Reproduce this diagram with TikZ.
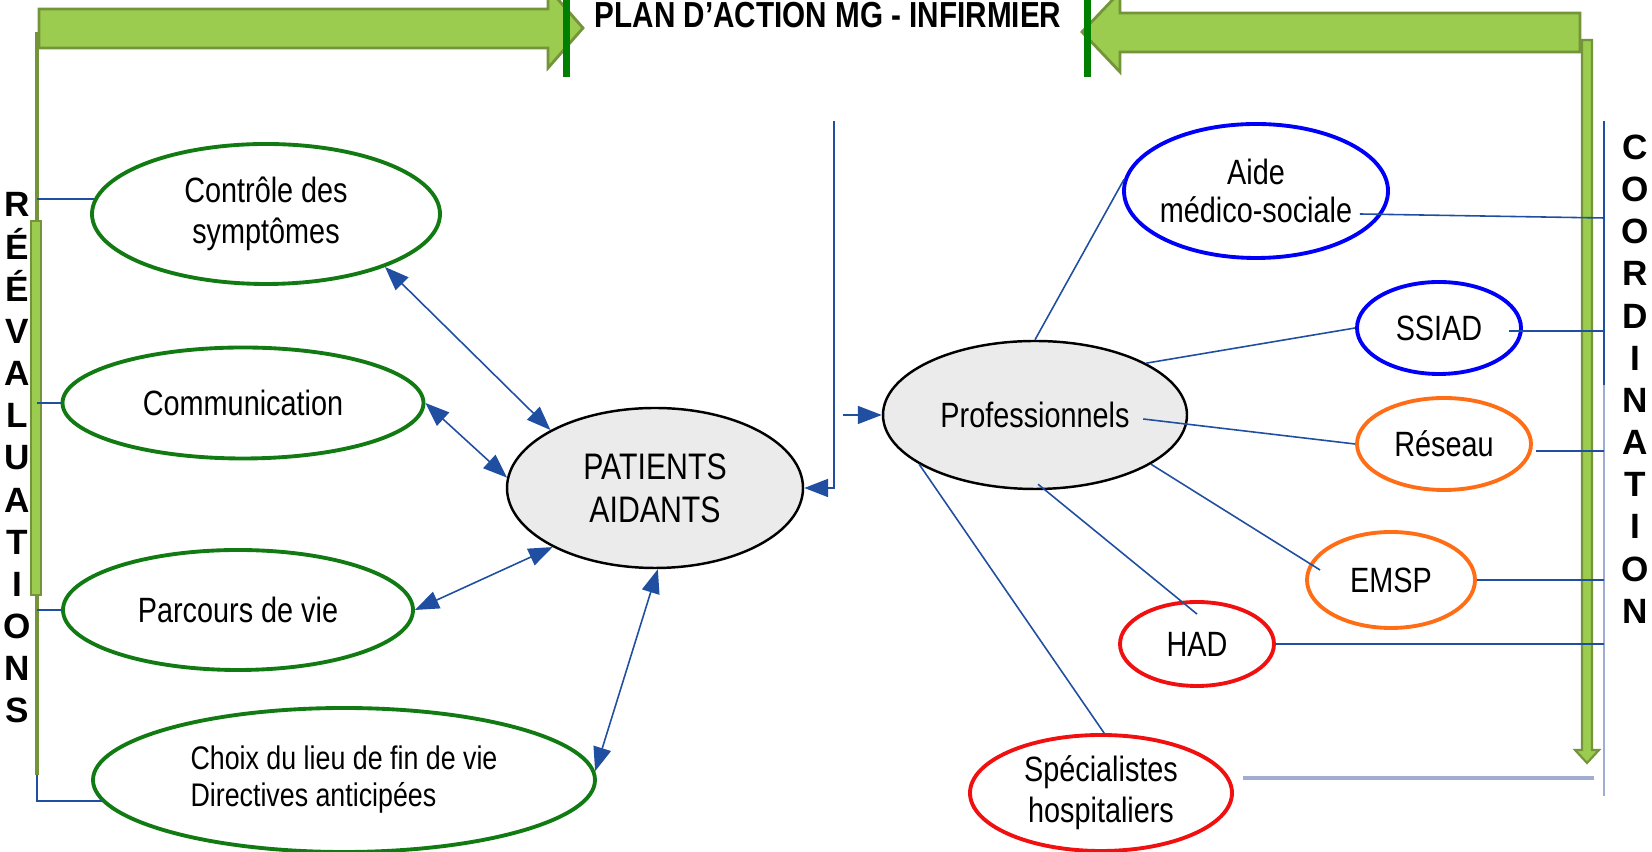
\documentclass[tikz,border=0pt]{standalone}
\usepackage{fontspec}
\setmainfont{Liberation Sans}[FakeStretch=0.82]
\newfontfamily\widefont{Liberation Sans}
\usetikzlibrary{shapes.geometric,arrows.meta,calc}

\definecolor{arrowGreen}{RGB}{155,204,80}
\definecolor{arrowEdge}{RGB}{116,148,58}
\definecolor{barGreen}{RGB}{0,128,0}
\definecolor{careGreen}{RGB}{18,122,18}
\definecolor{linkBlue}{RGB}{32,78,160}
\definecolor{paleBlue}{RGB}{160,172,208}
\definecolor{proBlue}{RGB}{0,0,250}
\definecolor{netOrange}{RGB}{255,110,22}
\definecolor{hospRed}{RGB}{240,16,16}
\definecolor{patGray}{RGB}{235,235,235}

\begin{document}
\begin{tikzpicture}[x=0.1mm,y=-0.1mm,>={Triangle[length=2.4mm,width=1.8mm]},
  font=\fontsize{10}{11.6}\selectfont,
  oval node/.style={ellipse,draw,line width=1.1pt,inner sep=0pt,align=center},
  care node/.style={oval node,draw=careGreen},
  home node/.style={oval node,draw=proBlue},
  team node/.style={oval node,draw=netOrange},
  hosp node/.style={oval node,draw=hospRed},
  hub node/.style={ellipse,draw,fill=patGray,line width=0.7pt,inner sep=0pt,
    align=center},
  vert text/.style={font=\widefont\bfseries\fontsize{10}{12}\selectfont,
    align=center,inner sep=0pt},
  title node/.style={font=\bfseries\fontsize{10.3}{12}\selectfont,inner sep=0pt},
  link/.style={color=linkBlue,line width=0.45pt},
  pale link/.style={color=paleBlue,line width=0.9pt},
  block/.style={fill=arrowGreen,draw=arrowEdge,line width=0.8pt},
  stop bar/.style={draw=barGreen,line width=0.7mm}]

  \useasboundingbox (0,0) rectangle (1652,852);

  \coordinate (REVTOP) at (37,32);
  \coordinate (REVBOT) at (37,775);
  \coordinate (HUBTOP) at (834,121);
  \coordinate (PROIN) at (843,415);
  \coordinate (COTOP) at (1604,121);
  \coordinate (COMID) at (1604,385);
  \coordinate (COBOT) at (1604,796);

  \draw[draw=arrowEdge,line width=1pt] (REVTOP) -- (REVBOT);
  \draw[block] (31,221) rectangle (41,595);
  \draw[block] (39,9) -- (548,9) -- (548,-12) -- (583,28) -- (548,68)
    -- (548,48) -- (39,48) -- cycle;
  \draw[block] (1580,13) -- (1120,13) -- (1120,-8) -- (1082,32) -- (1120,72)
    -- (1120,52) -- (1580,52) -- cycle;
  \draw[block,line width=0.6pt] (1582,40) -- (1592,40) -- (1592,750)
    -- (1599,750) -- (1587,763) -- (1575,750) -- (1582,750) -- cycle;
  \draw[stop bar] (566,0) -- (566,77);
  \draw[stop bar] (1087,0) -- (1087,77);

  \node[title node] (PLAN) at (828,15) {PLAN D'ACTION MG - INFIRMIER};
  \node[vert text] (REVAL) at (17,458) {R\\É\\É\\V\\A\\L\\U\\A\\T\\I\\O\\N\\S};
  \node[vert text] (COORD) at (1635,379) {C\\O\\O\\R\\D\\I\\N\\A\\T\\I\\O\\N};

  \node[care node,minimum width=34.8mm,minimum height=14mm] (CTRL) at (266,214)
    {Contrôle des\\symptômes};
  \node[care node,minimum width=36.1mm,minimum height=11.1mm] (COMM) at (243,403)
    {Communication};
  \node[care node,minimum width=35mm,minimum height=12mm] (PARC) at (238,610)
    {Parcours de vie};
  \node[care node,minimum width=50.2mm,minimum height=14.4mm,align=left,
    font=\fontsize{9.3}{10.5}\selectfont] (CHOIX) at (344,780)
    {Choix du lieu de fin de vie\\Directives anticipées};
  \node[hub node,minimum width=29.6mm,minimum height=16mm,
    font=\fontsize{10.5}{12.2}\selectfont] (PAT) at (655,488) {PATIENTS\\AIDANTS};
  \node[hub node,minimum width=30.4mm,minimum height=14.8mm] (PRO) at (1035,415)
    {Professionnels};
  \node[home node,minimum width=26.4mm,minimum height=13.4mm,inner xsep=-0.7mm,
    font=\fontsize{10}{11}\selectfont] (AIDE) at (1256,191) {Aide\\médico-sociale};
  \node[home node,minimum width=16.4mm,minimum height=9.2mm] (SSIAD) at (1439,328)
    {SSIAD};
  \node[team node,minimum width=17.4mm,minimum height=9.2mm] (RES) at (1444,444)
    {Réseau};
  \node[team node,minimum width=16.8mm,minimum height=9.6mm] (EMSP) at (1391,580)
    {EMSP};
  \node[hosp node,minimum width=15.4mm,minimum height=8.4mm] (HAD) at (1197,644)
    {HAD};
  \node[hosp node,minimum width=26.2mm,minimum height=11.6mm] (SPEC) at (1101,793)
    {Spécialistes\\hospitaliers};

  \path[link]
    (CTRL.175) edge (CTRL.175 -| REVTOP)
    (COMM.west) edge (COMM.west -| REVTOP)
    (PARC.west) edge (PARC.west -| REVTOP);
  \draw[link] (REVBOT) |- (CHOIX.185);

  \path[link,<->]
    (CTRL.-24) edge (PAT.151)
    (COMM.east) edge (PAT.176)
    (PARC.east) edge (PAT.210)
    (CHOIX.2) edge (PAT.-88);

  \draw[link,->,line width=0.6pt] (HUBTOP) |- (PAT.east);
  \draw[link,->] (PROIN) -- (PRO.west);

  \path[link]
    (PRO.north) edge (AIDE.175)
    (PRO.25) edge (SSIAD.west)
    ($(PRO.east)+(-45,4)$) edge (RES.west)
    (PRO.-23) edge ($(EMSP.west)+(15,-10)$)
    ($(PRO.south)+(3,-6)$) edge ($(HAD.north)+(0,14)$)
    (PRO.203) edge (SPEC.87);

  \draw[link,line width=0.6pt] (COTOP) -- (COMID);
  \draw[pale link,line width=0.6pt] (COMID) -- (COBOT);
  \path[link]
    ($(AIDE.east)+(-30,23)$) edge ($(AIDE.east -| COTOP)+(0,27)$)
    ($(SSIAD.east)+(-14,3)$) edge ($(SSIAD.east -| COTOP)+(0,3)$)
    ($(RES.east)+(3,7)$) edge ($(RES.east -| COTOP)+(0,7)$)
    (EMSP.east) edge (EMSP.east -| COTOP)
    (HAD.east) edge (HAD.east -| COTOP);
  \draw[pale link] ($(SPEC.east)+(9,-15)$) -- ($(SPEC.east -| COBOT)+(-10,-15)$);
\end{tikzpicture}
\end{document}
